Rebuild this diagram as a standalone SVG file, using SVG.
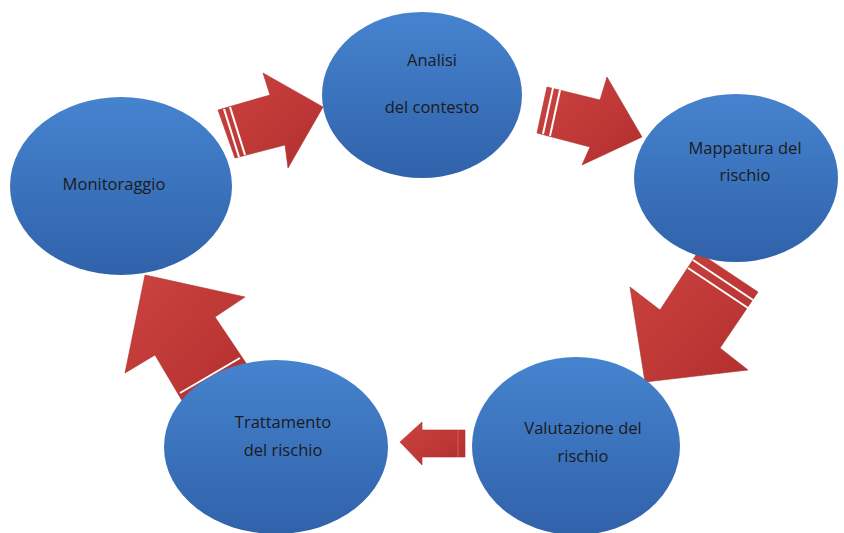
<svg xmlns="http://www.w3.org/2000/svg" width="844" height="533" viewBox="0 0 844 533">
<defs>
<linearGradient id="blue" x1="0" y1="0" x2="0" y2="1">
<stop offset="0" stop-color="#4683cf"/>
<stop offset="1" stop-color="#3062aa"/>
</linearGradient>
<linearGradient id="red" x1="0" y1="0" x2="1" y2="1">
<stop offset="0" stop-color="#cd4340"/>
<stop offset="1" stop-color="#b12f2e"/>
</linearGradient>
<style>
.node ellipse{fill:url(#blue);}
.node text{font-family:"Open Sans","Liberation Sans",sans-serif;font-size:16.5px;fill:#1b1b1b;text-anchor:middle;}
.arrow{fill:url(#red);stroke:#a8302d;stroke-width:0.6;}
.stripe{stroke:#ffffff;stroke-width:2;fill:none;}
</style>
</defs>
<rect width="844" height="533" fill="#ffffff"/>
<g id="connectors">
<g id="a1">
<polygon class="arrow" points="218,110 270,95 263,73 323,107 288,168 285,145 235,158"/>
<line class="stripe" x1="224" y1="109" x2="239" y2="157"/>
<line class="stripe" x1="230" y1="107" x2="245" y2="155"/>
</g>
<g id="a2">
<polygon class="arrow" points="547,87 600,100 607,77 642,137 582,165 590,147 537,133"/>
<line class="stripe" x1="553" y1="88" x2="543" y2="134"/>
<line class="stripe" x1="560" y1="90" x2="550" y2="136"/>
</g>
<g id="a3">
<polygon class="arrow" points="698,252 758,292 720,348 748,370 645,382 630,287 660,310"/>
<line class="stripe" x1="693" y1="260" x2="753" y2="300"/>
<line class="stripe" x1="688" y1="268" x2="748" y2="308"/>
</g>
<g id="a4">
<polygon class="arrow" points="465,430 422,430 422,422 400,442 422,465 422,457 465,457"/>
<line x1="458" y1="430" x2="458" y2="457" stroke="#d65a56" stroke-width="1"/>
</g>
<g id="a5">
<polygon class="arrow" points="184,404 250,369 215,317 245,297 145,275 125,373 155,355"/>
<line class="stripe" x1="180" y1="393" x2="240" y2="358"/>
</g>
</g>
<g id="n1" class="node">
<ellipse cx="422" cy="95" rx="100" ry="83"/>
<text x="432" y="66">Analisi</text>
<text x="432" y="113">del contesto</text>
</g>
<g id="n2" class="node">
<ellipse cx="736" cy="178" rx="102" ry="84"/>
<text x="745" y="154">Mappatura del</text>
<text x="745" y="181">rischio</text>
</g>
<g id="n3" class="node">
<ellipse cx="576" cy="446" rx="104" ry="89"/>
<text x="583" y="434">Valutazione del</text>
<text x="583" y="462">rischio</text>
</g>
<g id="n4" class="node">
<ellipse cx="276" cy="447" rx="112" ry="87"/>
<text x="283" y="428">Trattamento</text>
<text x="283" y="456">del rischio</text>
</g>
<g id="n5" class="node">
<ellipse cx="121" cy="186" rx="111" ry="89"/>
<text x="114" y="190">Monitoraggio</text>
</g>
</svg>
